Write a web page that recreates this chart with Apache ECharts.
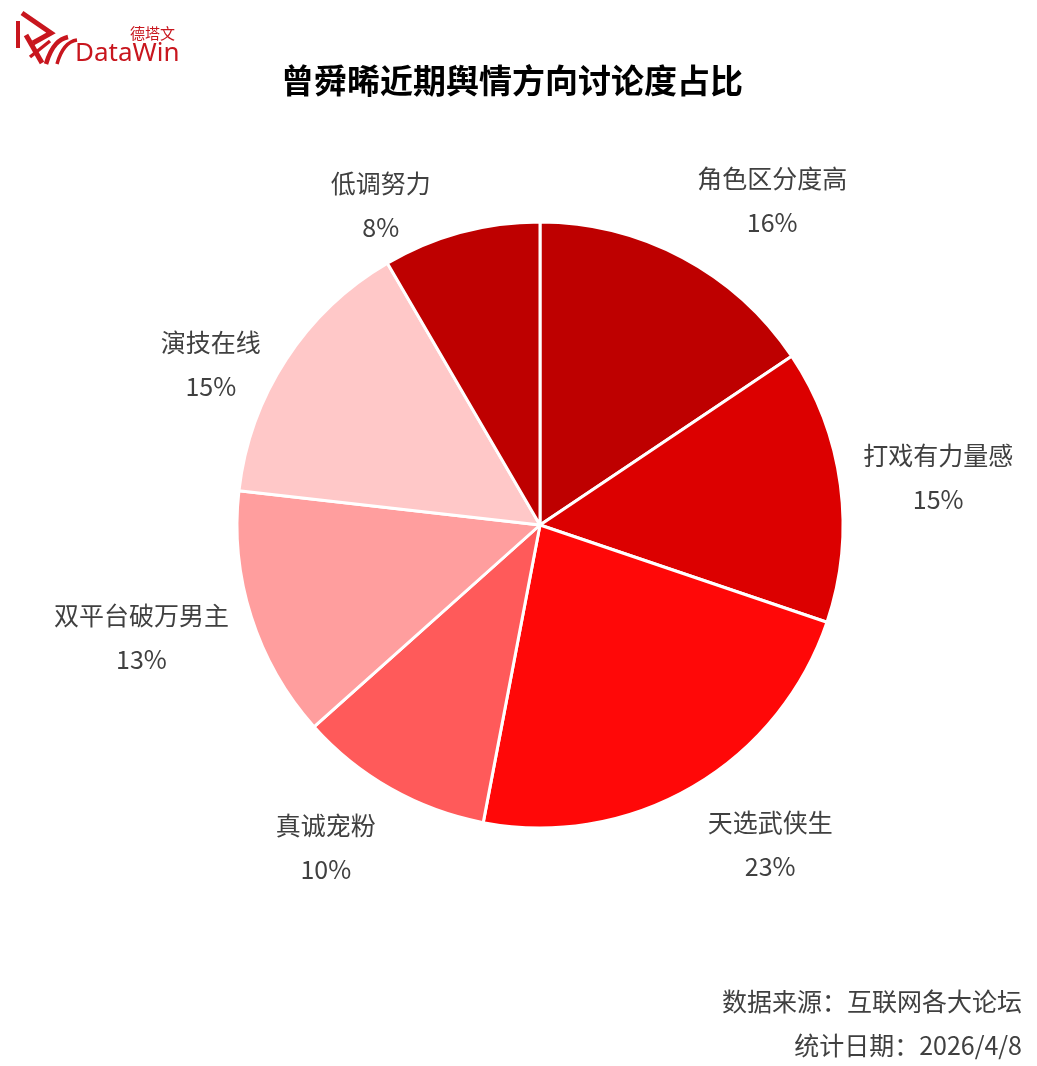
<!DOCTYPE html>
<html>
<head>
<meta charset="utf-8">
<script src="https://cdn.jsdelivr.net/npm/echarts@6/dist/echarts.min.js"></script>
<style>
html,body{margin:0;padding:0;background:#fff;}
#chart{width:1037px;height:1066px;}
</style>
</head>
<body>
<div id="chart"></div>
<script>
// ---- data ----
const CATEGORIES = ['角色区分度高', '打戏有力量感', '天选武侠生', '真诚宠粉', '双平台破万男主', '演技在线', '低调努力'];
const VALUES = [15.6, 14.6, 22.8, 10.4, 13.4, 14.8, 8.4];
const TITLE = '曾舜晞近期舆情方向讨论度占比';
const SOURCE = '数据来源：互联网各大论坛';
const DATE = '统计日期：2026/4/8';

// ---- style ----
const COLORS = ['#BE0000', '#DC0000', '#FF0808', '#FF5A5A', '#FF9E9E', '#FFC8C8', '#BE0000'];
const FONT = '"Noto Sans CJK SC", "Noto Sans", sans-serif';
const CX = 540, CY = 525, RADIUS = 303;
const LABEL_RX = 319, LABEL_RY = 369, LABEL_GAP = 7;
const LABEL_NUDGE = [[0, 0], [0, 0], [0, 0], [0, 0], [0, 0], [-5, 40], [-19, 36]];
const RED = '#C8161E';

const chart = echarts.init(document.getElementById('chart'), null, {renderer: 'canvas'});
const total = VALUES.reduce((a, b) => a + b, 0);

const option = {
  backgroundColor: '#ffffff',
  animation: false,
  color: COLORS,
  series: [{
    type: 'pie',
    center: [CX, CY],
    radius: RADIUS,
    startAngle: 90,
    clockwise: true,
    avoidLabelOverlap: false,
    itemStyle: {borderColor: '#ffffff', borderWidth: 3},
    label: {
      show: true,
      position: 'outside',
      formatter: p => '{n|' + p.name + '}\n{p|' + Math.round(p.percent) + '%}',
      rich: {
        n: {fontSize: 25, lineHeight: 44, color: '#404040', fontFamily: FONT, align: 'center'},
        p: {fontSize: 25, lineHeight: 44, color: '#404040', fontFamily: FONT, align: 'center'}
      }
    },
    labelLine: {show: false},
    labelLayout: function (params) {
      const i = params.dataIndex;
      let cum = 0;
      for (let j = 0; j < i; j++) cum += VALUES[j];
      const theta = (cum + VALUES[i] / 2) / total * Math.PI * 2;
      const sx = Math.sin(theta), sy = -Math.cos(theta);
      const right = sx >= 0;
      return {
        x: CX + LABEL_RX * sx + (right ? LABEL_GAP : -LABEL_GAP) + LABEL_NUDGE[i][0],
        y: CY + LABEL_RY * sy + LABEL_NUDGE[i][1] + 1,
        align: right ? 'left' : 'right',
        verticalAlign: 'middle'
      };
    },
    data: CATEGORIES.map((c, i) => ({name: c, value: VALUES[i]}))
  }],
  graphic: [
    {type: 'text', style: {text: TITLE, x: 512, y: 80, align: 'center', verticalAlign: 'middle',
      fontSize: 33, fontWeight: 'bold', fontFamily: FONT, fill: '#000000'}},
    {type: 'text', style: {text: SOURCE, x: 1022, y: 1001, align: 'right', verticalAlign: 'middle',
      fontSize: 25, fontFamily: FONT, fill: '#404040'}},
    {type: 'text', style: {text: DATE, x: 1022, y: 1045, align: 'right', verticalAlign: 'middle',
      fontSize: 25, fontFamily: FONT, fill: '#404040'}},
    // logo
    {type: 'text', style: {text: 'DataWin', x: 75, y: 54, align: 'left', verticalAlign: 'middle',
      fontSize: 26, fontFamily: '"Noto Sans", sans-serif', fill: RED}},
    {type: 'text', style: {text: '德塔文', x: 175, y: 33, align: 'right', verticalAlign: 'middle',
      fontSize: 15, fontFamily: FONT, fill: RED}},
    {type: 'polyline', shape: {points: [[18, 21], [18, 48]]}, style: {stroke: RED, lineWidth: 4, fill: null}},
    {type: 'polyline', shape: {points: [[22, 13], [51, 33], [33, 43]]}, style: {stroke: RED, lineWidth: 5, fill: null, lineJoin: 'miter'}},
    {type: 'polyline', shape: {points: [[26, 35], [42, 63]]}, style: {stroke: RED, lineWidth: 5, fill: null}},
    {type: 'polyline', shape: {points: [[30, 57], [50, 41]]}, style: {stroke: RED, lineWidth: 3.5, fill: null}},
    {type: 'bezierCurve', shape: {x1: 46, y1: 64, x2: 68, y2: 37, cpx1: 52, cpy1: 44, cpx2: 60, cpy2: 39}, style: {stroke: RED, lineWidth: 4.5, fill: null}},
    {type: 'bezierCurve', shape: {x1: 57, y1: 64, x2: 77, y2: 40, cpx1: 62, cpy1: 46, cpx2: 70, cpy2: 41}, style: {stroke: RED, lineWidth: 3.5, fill: null}}
  ]
};
chart.setOption(option);
</script>
</body>
</html>
